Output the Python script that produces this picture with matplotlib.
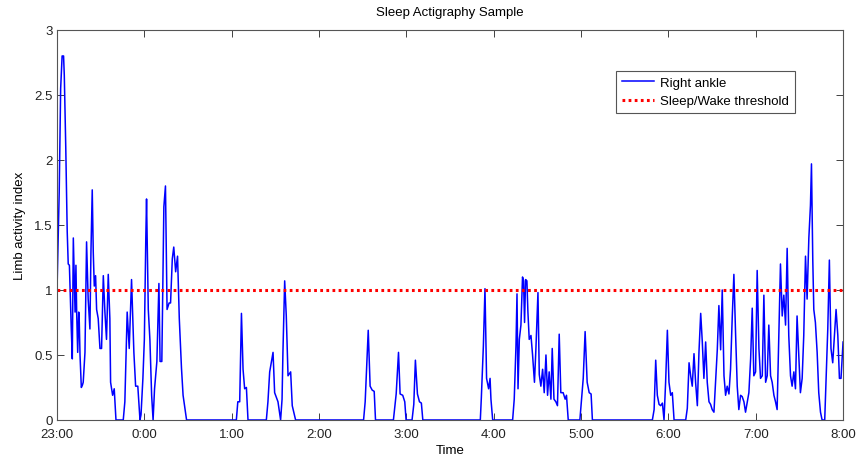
import numpy as np
import matplotlib
matplotlib.use("Agg")
import matplotlib.pyplot as plt

plt.rcParams['font.family'] = ['Liberation Sans', 'DejaVu Sans']

# minutes after 23:00 and activity index
minutes = [0, 1.5, 2.5, 3.5, 4.5, 5, 6, 6.6, 7, 7.7, 8.5, 9, 9.8, 10.5, 11.2, 11.9, 12.4, 13, 13.5,
           14.2, 14.9, 15.3, 15.8, 16.7, 17.5, 18, 19.2, 20.3, 21.4, 22.6, 23.3, 24.2, 24.9, 25.6,
           26.5, 27.2, 28.3, 29.5, 30.6, 31.8, 32.9, 34, 35.2, 36.3, 36.8, 38.2, 39.3, 40.5, 45.5,
           46.6, 48.2, 49.6, 51.2, 52.8, 54, 55.5, 57, 57.7, 59, 60, 61, 61.5, 62.7, 63.8, 65, 66,
           67, 68.6, 70, 70.8, 72, 73.4, 74.5, 75.6, 77, 78, 79.2, 80.2, 81.5, 82.8, 84, 85.5, 86.6,
           89,
           123.2, 124.2, 125.5, 126.7, 127.8, 128.9, 130.1, 131.2,
           143.8, 144.9, 146.1, 148.4, 149.5, 151.8, 153.6, 154.6, 155.2, 156.4, 157.5, 158.7,
           160.5, 161.6, 163.9,
           210.6, 211.7, 213.8, 215.1, 216.5, 217.9, 218.8,
           231.1, 233, 234.6, 235.7, 237.5, 238.9, 239.8,
           243.9, 245.1, 246.2, 247.6, 249, 250.3, 251.3,
           290.8, 291.5, 292.9, 294, 295.1, 296.5, 297.5, 298.1, 299.3,
           313, 314.1, 315.3, 316, 316.7, 317.6, 318.7, 319.8, 320.5, 321.2, 321.9, 322.8, 323.5,
           324.4, 325.6, 326.7, 328, 329, 330.4, 331.3, 332.4, 333.6, 334.7, 335.9, 337, 338.1,
           339.3, 340.2, 341.4, 342.7, 343.8, 345, 346.1, 347.7, 349.1, 350, 351.2,
           359.2, 359.9, 361.5, 362.8, 364.2, 365.6, 366.9, 367.8,
           409, 410.2, 411.3, 412.4, 413.6, 414.7, 415.9, 417, 418.1, 419.3, 420.4, 421.6, 422.7,
           423.9,
           431.9, 433, 434.2, 435.3, 436.4, 437.6, 438.7, 439.9, 441, 442.2, 443.3, 444.4, 445.6,
           446.7, 447.9, 449, 450.1, 451.3, 452.4, 453.6, 454.7, 455.9, 457, 458.2, 459.3, 460.4,
           461.6, 462.7, 463.9, 465, 466.2, 467.3, 468.4, 469.6, 470.7, 471.9, 473, 474.2, 475.3,
           476.5, 477.6, 478.7, 479.9, 481, 482.2, 483.3, 484.5, 485.6, 486.8, 487.9, 489, 490.2,
           491.3, 492.5, 493.6, 494.7, 495.9, 497, 498.2, 499.3, 500.5, 501.6, 502.7, 503.9, 505,
           506.2, 507.3, 508.4, 509.6, 510.7, 511.9, 513, 514.2, 515.3, 516.5, 517.6, 518.3, 519.2,
           519.9, 521, 522.2, 523.3, 524.5, 525.6, 527.4, 528.3, 529.5, 530.6, 531.7, 532.9, 534.1,
           535.2, 536.4, 537.5, 538.6, 540]
activity = [1.0, 1.75, 2.55, 2.8, 2.8, 2.65, 2.1, 1.7, 1.45, 1.2, 1.19, 1.0, 0.7, 0.47, 1.4, 1.08,
            0.83, 1.19, 0.83, 0.52, 0.83, 0.75, 0.5, 0.25, 0.27, 0.29, 0.52, 1.37, 0.93, 0.7, 1.29,
            1.77, 1.29, 1.03, 1.11, 0.85, 0.78, 0.55, 0.55, 1.11, 0.83, 0.62, 1.12, 0.78, 0.29,
            0.19, 0.24, 0, 0, 0.14, 0.83, 0.55, 1.08, 0.52, 0.26, 0.26, 0, 0.04, 0.32, 0.62, 1.4,
            1.7, 0.85, 0.62, 0.19, 0, 0.24, 0.45, 1.05, 0.45, 0.45, 1.64, 1.8, 0.85, 0.9, 0.9, 1.24,
            1.33, 1.14, 1.26, 0.78, 0.4, 0.19, 0,
            0, 0.14, 0.14, 0.82, 0.39, 0.24, 0.25, 0,
            0, 0.14, 0.37, 0.52, 0.21, 0.14, 0, 0.16, 0.52, 1.07, 0.8, 0.34, 0.37, 0.11, 0,
            0, 0.14, 0.69, 0.26, 0.23, 0.22, 0,
            0, 0.2, 0.52, 0.2, 0.19, 0.14, 0,
            0, 0.12, 0.46, 0.2, 0.14, 0.13, 0,
            0, 0.17, 0.57, 1.01, 0.32, 0.24, 0.32, 0.16, 0,
            0, 0.16, 0.57, 0.97, 0.24, 0.62, 0.73, 1.1, 1.07, 0.75, 1.08, 1.07, 0.83, 0.62, 0.65,
            0.5, 0.29, 0.55, 0.98, 0.35, 0.26, 0.39, 0.21, 0.5, 0.19, 0.37, 0.16, 0.55, 0.16, 0.14,
            0.11, 0.66, 0.21, 0.21, 0.16, 0.19, 0,
            0, 0.1, 0.32, 0.68, 0.29, 0.21, 0.2, 0,
            0, 0.08, 0.46, 0.19, 0.12, 0.11, 0.13, 0, 0.29, 0.69, 0.29, 0.19, 0.21, 0,
            0, 0.09, 0.44, 0.34, 0.26, 0.51, 0.29, 0.11, 0.52, 0.82, 0.6, 0.32, 0.6, 0.29, 0.14,
            0.12, 0.08, 0.06, 0.29, 0.54, 0.88, 0.54, 1.0, 0.34, 0.19, 0.26, 0.2, 0.39, 0.8, 1.12,
            0.65, 0.26, 0.08, 0.19, 0.18, 0.14, 0.06, 0.14, 0.21, 0.47, 0.86, 0.34, 0.37, 1.15,
            0.55, 0.32, 0.34, 0.96, 0.29, 0.34, 0.73, 0.34, 0.29, 0.19, 0.14, 0.08, 0.65, 1.2, 0.8,
            0.96, 0.73, 1.32, 0.65, 0.34, 0.26, 0.37, 0.24, 0.8, 0.5, 0.21, 0.32, 0.65, 1.26, 0.93,
            1.4, 1.65, 1.97, 1.23, 0.85, 0.75, 0.52, 0.21, 0.06, 0, 0, 0.29, 0.7, 1.23, 0.55, 0.44,
            0.65, 0.85, 0.65, 0.32, 0.32, 0.6]

threshold = 1.0
hour_ticks = [0, 60, 120, 180, 240, 300, 360, 420, 480, 540]
hour_labels = ['23:00', '0:00', '1:00', '2:00', '3:00', '4:00', '5:00', '6:00', '7:00', '8:00']
y_ticks = [0, 0.5, 1, 1.5, 2, 2.5, 3]
y_labels = ['0', '0.5', '1', '1.5', '2', '2.5', '3']

fig = plt.figure(figsize=(8.6, 4.56), dpi=100)
ax = fig.add_axes([0.0663, 0.0768, 0.9140, 0.8553])

ax.plot(minutes, activity, color='#0000ff', lw=1.1, label='Right ankle')
ax.plot([hour_ticks[0], hour_ticks[-1]], [threshold, threshold], color='red', lw=2.2,
        linestyle=(0, (0.9, 1.1)), label='Sleep/Wake threshold')

ax.set_xlim(0, 540)
ax.set_ylim(0, 3)
ax.set_xticks(hour_ticks)
ax.set_xticklabels(hour_labels)
ax.set_yticks(y_ticks)
ax.set_yticklabels(y_labels)
ax.tick_params(direction='in', length=5, width=0.6, top=True, right=True,
               labelsize=9.5, colors='#222222')
ax.tick_params(axis='x', pad=6)
ax.tick_params(axis='y', pad=3)
for s in ax.spines.values():
    s.set_color('#555555')
    s.set_linewidth(0.8)

ax.set_title('Sleep Actigraphy Sample', fontsize=9.5, pad=11)
ax.set_xlabel('Time', fontsize=9.5, labelpad=3)
ax.set_ylabel('Limb activity index', fontsize=9.5, labelpad=6)

leg = ax.legend(loc='upper right', bbox_to_anchor=(0.939, 0.895), fontsize=9.5,
                fancybox=False, framealpha=1, edgecolor='#555555', handlelength=2.4,
                borderpad=0.45, labelspacing=0.45, handletextpad=0.5, borderaxespad=0)
leg.get_frame().set_linewidth(0.8)

plt.savefig('out.png', dpi=100)
plt.close()
